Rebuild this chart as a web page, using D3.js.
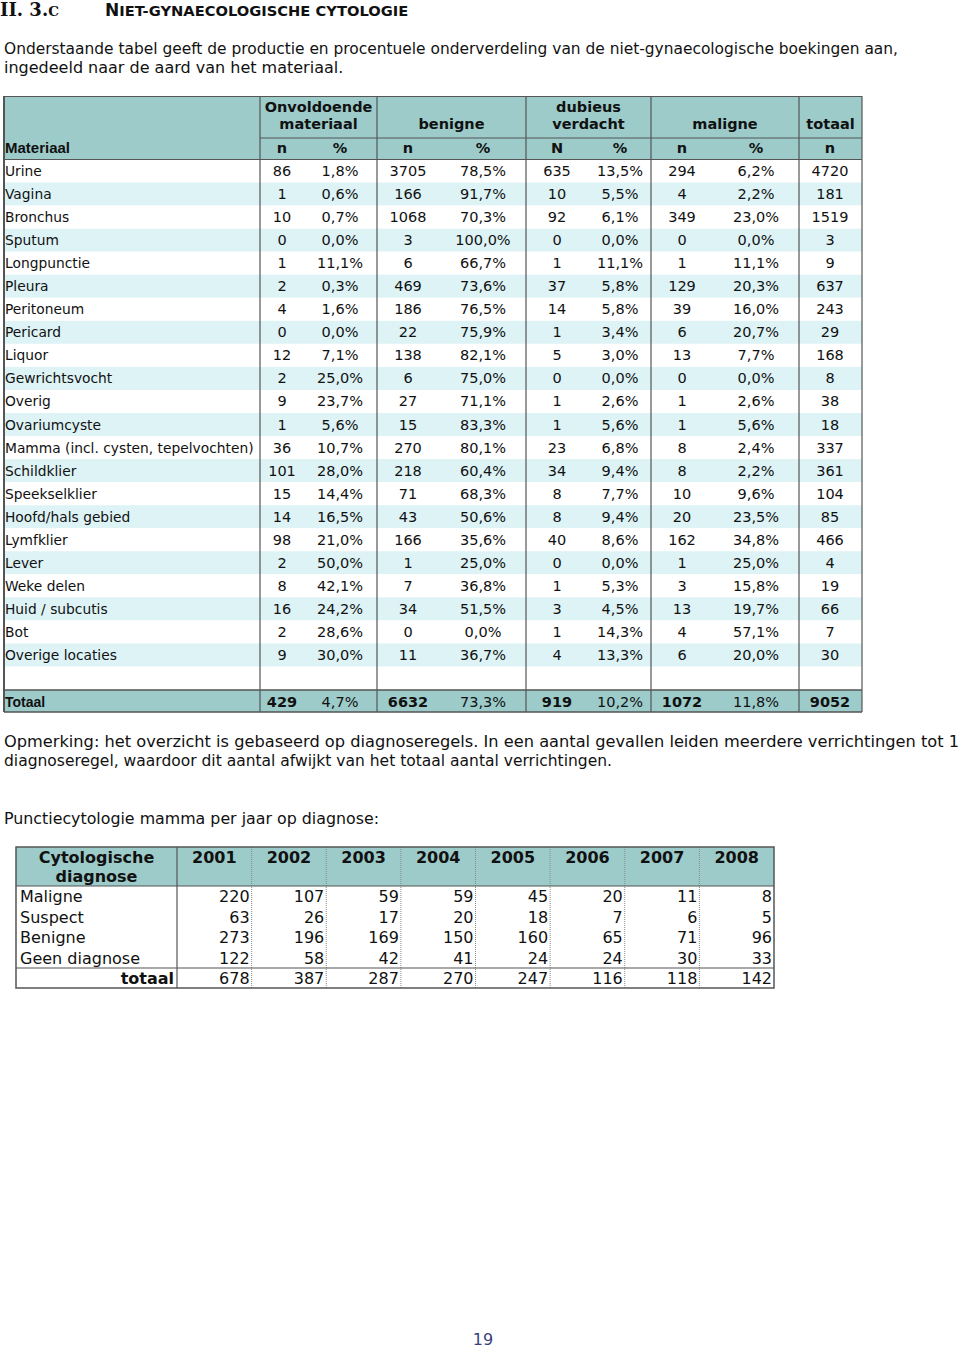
<!DOCTYPE html>
<html>
<head>
<meta charset="utf-8">
<script src="https://cdnjs.cloudflare.com/ajax/libs/d3/7.8.5/d3.min.js"></script>
<style>
  body { margin: 0; background: #fff; }
  svg { display: block; }
  text { font-family: "DejaVu Sans", Verdana, sans-serif; fill: #111; }
</style>
</head>
<body>
<div id="chart"></div>
<script>
// table 1: niet-gynaecologische boekingen per materiaal
const materials = ['Urine','Vagina','Bronchus','Sputum','Longpunctie','Pleura','Peritoneum','Pericard','Liquor','Gewrichtsvocht','Overig','Ovariumcyste','Mamma (incl. cysten, tepelvochten)','Schildklier','Speekselklier','Hoofd/hals gebied','Lymfklier','Lever','Weke delen','Huid / subcutis','Bot','Overige locaties'];
const onvN   = [86,1,10,0,1,2,4,0,12,2,9,1,36,101,15,14,98,2,8,16,2,9];
const onvPct = [1.8,0.6,0.7,0.0,11.1,0.3,1.6,0.0,7.1,25.0,23.7,5.6,10.7,28.0,14.4,16.5,21.0,50.0,42.1,24.2,28.6,30.0];
const benN   = [3705,166,1068,3,6,469,186,22,138,6,27,15,270,218,71,43,166,1,7,34,0,11];
const benPct = [78.5,91.7,70.3,100.0,66.7,73.6,76.5,75.9,82.1,75.0,71.1,83.3,80.1,60.4,68.3,50.6,35.6,25.0,36.8,51.5,0.0,36.7];
const dubN   = [635,10,92,0,1,37,14,1,5,0,1,1,23,34,8,8,40,0,1,3,1,4];
const dubPct = [13.5,5.5,6.1,0.0,11.1,5.8,5.8,3.4,3.0,0.0,2.6,5.6,6.8,9.4,7.7,9.4,8.6,0.0,5.3,4.5,14.3,13.3];
const malN   = [294,4,349,0,1,129,39,6,13,0,1,1,8,8,10,20,162,1,3,13,4,6];
const malPct = [6.2,2.2,23.0,0.0,11.1,20.3,16.0,20.7,7.7,0.0,2.6,5.6,2.4,2.2,9.6,23.5,34.8,25.0,15.8,19.7,57.1,20.0];
const totN   = [4720,181,1519,3,9,637,243,29,168,8,38,18,337,361,104,85,466,4,19,66,7,30];
const totaalRow = [429,4.7,6632,73.3,919,10.2,1072,11.8,9052];

const groupLabels = [['Onvoldoende','materiaal'],['benigne'],['dubieus','verdacht'],['maligne'],['totaal']];
const subLabels = ['n','%','n','%','N','%','n','%','n'];

// table 2: punctiecytologie mamma
const years = [2001,2002,2003,2004,2005,2006,2007,2008];
const diagnoses = ['Maligne','Suspect','Benigne','Geen diagnose'];
const maligneJ = [220,107,59,59,45,20,11,8];
const suspectJ = [63,26,17,20,18,7,6,5];
const benigneJ = [273,196,169,150,160,65,71,96];
const geenJ    = [122,58,42,41,24,24,30,33];
const totaalJ  = [678,387,287,270,247,116,118,142];

const W = 960, H = 1351;
const teal = '#9ccbca', stripe = '#ddf3f6', line = '#555';

const svg = d3.select('#chart').append('svg').attr('width', W).attr('height', H);
svg.append('rect').attr('width', W).attr('height', H).attr('fill', '#fff');

const pct = v => d3.format('.1f')(v).replace('.', ',') + '%';

// title
const title = svg.append('text').attr('x', 0).attr('y', 16).style('font-weight', 'bold');
title.append('tspan').style('font-family', '"DejaVu Serif", serif').style('font-size', '18px').text('II. 3.');
title.append('tspan').style('font-family', '"DejaVu Serif", serif').style('font-size', '13.5px').text('C');
const t2 = svg.append('text').attr('x', 105).attr('y', 16).style('font-weight', 'bold');
t2.append('tspan').style('font-size', '17px').text('N');
t2.append('tspan').style('font-size', '14px').attr('textLength', 289).attr('lengthAdjust', 'spacingAndGlyphs')
  .text('IET-GYNAECOLOGISCHE CYTOLOGIE');

// intro
svg.append('text').attr('x', 4).attr('y', 54).style('font-size', '16px')
  .attr('textLength', 894).attr('lengthAdjust', 'spacingAndGlyphs')
  .text('Onderstaande tabel geeft de productie en procentuele onderverdeling van de niet-gynaecologische boekingen aan,');
svg.append('text').attr('x', 4).attr('y', 73).style('font-size', '16px')
  .text('ingedeeld naar de aard van het materiaal.');

// ---- table 1 ----
const edges = [4, 260, 377, 526, 651, 799, 862];
const colCenters = [282, 340, 408, 483, 557, 620, 682, 756, 830];
const colSeries = [onvN, onvPct, benN, benPct, dubN, dubPct, malN, malPct, totN];
const isPct = [false, true, false, true, false, true, false, true, false];

const x1 = d3.scaleOrdinal().domain(d3.range(9)).range(colCenters);
const y1 = d3.scaleBand().domain(d3.range(materials.length)).range([159.5, 666.5]);
const top1 = 96, hdrMid = 138, hdrBot = 159.5, blankBot = 690, totBot = 712;

const t1 = svg.append('g');
// header + total background
t1.append('rect').attr('x', edges[0]).attr('y', top1).attr('width', edges[6] - edges[0]).attr('height', hdrBot - top1).attr('fill', teal);
t1.append('rect').attr('x', edges[0]).attr('y', blankBot).attr('width', edges[6] - edges[0]).attr('height', totBot - blankBot).attr('fill', teal);
// stripes
t1.selectAll('rect.stripe').data(materials).join('rect').attr('class', 'stripe')
  .attr('x', edges[0]).attr('y', (d, i) => y1(i)).attr('width', edges[6] - edges[0]).attr('height', y1.bandwidth())
  .attr('fill', (d, i) => i % 2 ? stripe : '#fff');

// header labels
groupLabels.forEach((lab, g) => {
  const cx = (edges[g + 1] + edges[g + 2]) / 2;
  lab.forEach((s, k) => {
    t1.append('text').attr('x', cx).attr('y', lab.length === 2 ? 112 + k * 17 : 129)
      .attr('text-anchor', 'middle').style('font-size', '14.5px').style('font-weight', 'bold').text(s);
  });
});
t1.append('text').attr('x', 5).attr('y', 153).style('font-family', '"Liberation Sans", Arial, sans-serif')
  .style('font-size', '15px').style('font-weight', 'bold').text('Materiaal');
t1.selectAll('text.sub').data(subLabels).join('text').attr('class', 'sub')
  .attr('x', (d, i) => x1(i)).attr('y', 153).attr('text-anchor', 'middle')
  .style('font-size', '14.5px').style('font-weight', 'bold').text(d => d);

// rows
const rows = t1.selectAll('g.row').data(materials).join('g').attr('class', 'row')
  .attr('transform', (d, i) => `translate(0,${y1(i) + y1.bandwidth() / 2 + 5})`);
rows.append('text').attr('x', 5).style('font-size', '13.8px').text(d => d);
colSeries.forEach((arr, c) => {
  rows.append('text').attr('x', x1(c)).attr('text-anchor', 'middle').style('font-size', '14.5px')
    .text((d, i) => isPct[c] ? pct(arr[i]) : arr[i]);
});

// totaal
t1.append('text').attr('x', 5).attr('y', 707).style('font-family', '"Liberation Sans", Arial, sans-serif')
  .style('font-size', '14px').style('font-weight', 'bold').text('Totaal');
t1.selectAll('text.tot').data(totaalRow).join('text').attr('class', 'tot')
  .attr('x', (d, i) => x1(i)).attr('y', 707).attr('text-anchor', 'middle')
  .style('font-size', '14.5px').style('font-weight', (d, i) => isPct[i] ? 'normal' : 'bold')
  .text((d, i) => isPct[i] ? pct(d) : d);

// grid lines
const hl = (xa, xb, y, w) => t1.append('line').attr('x1', xa).attr('x2', xb).attr('y1', y).attr('y2', y).attr('stroke', line).attr('stroke-width', w || 1);
hl(edges[0], edges[6], top1 + 0.5);
hl(edges[1], edges[6], hdrMid);
hl(edges[0], edges[6], hdrBot, 1.2);
hl(edges[0], edges[6], blankBot, 1.5);
hl(edges[0], edges[6], totBot, 1.5);
t1.selectAll('line.v').data(edges).join('line').attr('class', 'v')
  .attr('x1', d => d).attr('x2', d => d).attr('y1', top1).attr('y2', totBot)
  .attr('stroke', line).attr('stroke-width', (d, i) => i === 0 ? 2 : 1.2);

// opmerking
svg.append('text').attr('x', 4).attr('y', 747).style('font-size', '15.5px')
  .attr('textLength', 955).attr('lengthAdjust', 'spacingAndGlyphs')
  .text('Opmerking: het overzicht is gebaseerd op diagnoseregels. In een aantal gevallen leiden meerdere verrichtingen tot 1');
svg.append('text').attr('x', 4).attr('y', 766).style('font-size', '15.5px')
  .attr('textLength', 608).attr('lengthAdjust', 'spacingAndGlyphs')
  .text('diagnoseregel, waardoor dit aantal afwijkt van het totaal aantal verrichtingen.');
svg.append('text').attr('x', 4).attr('y', 824).style('font-size', '15.5px')
  .attr('textLength', 375).attr('lengthAdjust', 'spacingAndGlyphs')
  .text('Punctiecytologie mamma per jaar op diagnose:');

// ---- table 2 ----
const L2 = 16, C1 = 177, R2 = 774, top2 = 847, hdr2 = 886, totTop2 = 968, bot2 = 988;
const x2 = d3.scaleBand().domain(years).range([C1, R2]);
const y2 = d3.scaleBand().domain(diagnoses).range([hdr2, totTop2]);
const series2 = [maligneJ, suspectJ, benigneJ, geenJ];

const t2g = svg.append('g');
t2g.append('rect').attr('x', L2).attr('y', top2).attr('width', R2 - L2).attr('height', hdr2 - top2).attr('fill', teal);
t2g.append('text').attr('x', (L2 + C1) / 2).attr('y', 863).attr('text-anchor', 'middle')
  .style('font-size', '16px').style('font-weight', 'bold').text('Cytologische');
t2g.append('text').attr('x', (L2 + C1) / 2).attr('y', 882).attr('text-anchor', 'middle')
  .style('font-size', '16px').style('font-weight', 'bold').text('diagnose');
t2g.selectAll('text.yr').data(years).join('text').attr('class', 'yr')
  .attr('x', d => x2(d) + x2.bandwidth() / 2).attr('y', 863).attr('text-anchor', 'middle')
  .style('font-size', '16px').style('font-weight', 'bold').text(d => d);

diagnoses.forEach((dg, r) => {
  const yy = y2(dg) + y2.bandwidth() / 2 + 6;
  t2g.append('text').attr('x', 20).attr('y', yy).style('font-size', '16px').text(dg);
  t2g.selectAll(null).data(series2[r]).join('text')
    .attr('x', (d, i) => x2(years[i]) + x2.bandwidth() - 2).attr('y', yy).attr('text-anchor', 'end')
    .style('font-size', '16px').text(d => d);
});
t2g.append('text').attr('x', C1 - 3).attr('y', 984).attr('text-anchor', 'end')
  .style('font-size', '16px').style('font-weight', 'bold').text('totaal');
t2g.selectAll('text.jt').data(totaalJ).join('text').attr('class', 'jt')
  .attr('x', (d, i) => x2(years[i]) + x2.bandwidth() - 2).attr('y', 984).attr('text-anchor', 'end')
  .style('font-size', '16px').text(d => d);

// lines table 2
t2g.selectAll('line.dot').data(years.slice(1)).join('line').attr('class', 'dot')
  .attr('x1', d => x2(d)).attr('x2', d => x2(d)).attr('y1', top2).attr('y2', bot2)
  .attr('stroke', '#888').attr('stroke-dasharray', '1,1');
const l2 = (xa, ya, xb, yb, w) => t2g.append('line').attr('x1', xa).attr('y1', ya).attr('x2', xb).attr('y2', yb).attr('stroke', line).attr('stroke-width', w);
l2(C1, top2, C1, bot2, 1.2);
l2(L2, hdr2, R2, hdr2, 1.2);
l2(L2, totTop2, R2, totTop2, 1.2);
t2g.append('rect').attr('x', L2).attr('y', top2).attr('width', R2 - L2).attr('height', bot2 - top2)
  .attr('fill', 'none').attr('stroke', line).attr('stroke-width', 1.5);

// page number
svg.append('text').attr('x', 483).attr('y', 1345).attr('text-anchor', 'middle')
  .style('font-size', '16px').style('fill', '#3a3f80').text('19');
</script>
</body>
</html>
